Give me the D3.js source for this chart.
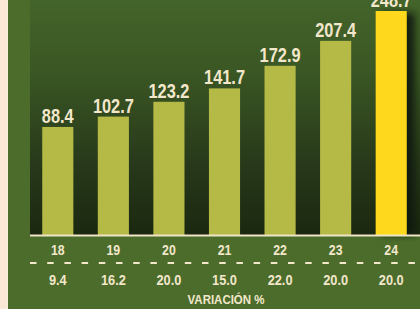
<!DOCTYPE html>
<html><head><meta charset="utf-8">
<script src="https://cdn.jsdelivr.net/npm/d3@7"></script>
<style>html,body{margin:0;padding:0;background:#4b6c2b;}svg{display:block;}</style>
</head><body>
<script>
const years = ["18","19","20","21","22","23","24"];
const values = [88.4, 102.7, 123.2, 141.7, 172.9, 207.4, 248.7];
const variations = ["9.4","16.2","20.0","15.0","22.0","20.0","20.0"];
const highlight = "24";
const axisTitle = "VARIACIÓN %";

const W = 420, H = 309;
const font = "'Liberation Sans',Arial,sans-serif";
const cream = "#f3e7cb";
const svg = d3.select("body").append("svg").attr("width", W).attr("height", H);
const defs = svg.append("defs");
const grad = defs.append("linearGradient").attr("id","bg").attr("x1",0).attr("x2",0).attr("y1",0).attr("y2",1);
[[0,"#43642a"],[0.3,"#3b5724"],[0.7,"#27391a"],[1,"#1b2810"]].forEach(s=>grad.append("stop").attr("offset",s[0]).attr("stop-color",s[1]));
const sh = defs.append("filter").attr("id","sh").attr("x","-50%").attr("y","-10%").attr("width","200%").attr("height","120%");
sh.append("feGaussianBlur").attr("stdDeviation",3);

svg.append("rect").attr("width",W).attr("height",H).attr("fill","#4b6c2b");
svg.append("rect").attr("width",7).attr("height",H).attr("fill","#fae7d5");
svg.append("rect").attr("x",7).attr("width",1).attr("height",H).attr("fill","#f6efd9");

const x = d3.scaleBand().domain(years).range([30,419]).paddingInner(0.44).paddingOuter(0.22);
const y = d3.scaleLinear().domain([-61, 248.7]).range([235, 11]);
const cx = d => x(d) + x.bandwidth()/2;

svg.append("rect").attr("x",30).attr("y",0).attr("width",W-30).attr("height",y(-61)).attr("fill","url(#bg)");

const hi = values[years.indexOf(highlight)];
svg.append("rect").attr("x",x(highlight)+6).attr("y",y(hi)+2).attr("width",x.bandwidth()+2).attr("height",y(-61)-y(hi)-2)
  .attr("fill","#0f170a").attr("opacity",0.85).attr("filter","url(#sh)");

svg.selectAll("rect.bar").data(years).join("rect").attr("class","bar")
  .attr("x",d=>x(d)).attr("width",x.bandwidth())
  .attr("y",(d,i)=>y(values[i])).attr("height",(d,i)=>y(-61)-y(values[i]))
  .attr("fill",d=>d===highlight?"#fdd81c":"#b5b946");

function label(sel, size, sx) {
  return sel.attr("text-anchor","middle").attr("font-family",font).attr("font-weight","bold")
    .attr("font-size",size).attr("fill",cream);
}

label(svg.selectAll("text.val").data(years).join("text").attr("class","val"), 19.5)
  .attr("transform",(d,i)=>`translate(${cx(d)},${y(values[i])-4}) scale(0.84,1)`)
  .text((d,i)=>values[i].toFixed(1));

svg.append("line").attr("x1",30).attr("x2",W).attr("y1",y(-61)+0.5).attr("y2",y(-61)+0.5).attr("stroke","#efe4c6").attr("stroke-width",2);

label(svg.selectAll("text.yr").data(years).join("text").attr("class","yr"), 14)
  .attr("transform",d=>`translate(${cx(d)},255) scale(0.88,1)`).text(d=>d);

svg.append("line").attr("x1",30).attr("x2",W).attr("y1",263).attr("y2",263)
  .attr("stroke",cream).attr("stroke-width",2).attr("stroke-dasharray","6.5,10.7");

label(svg.selectAll("text.var").data(years).join("text").attr("class","var"), 15.4)
  .attr("transform",d=>`translate(${cx(d)},284.5) scale(0.83,1)`).text((d,i)=>variations[i]);

label(svg.append("text"), 13.2).attr("transform","translate(226,304) scale(0.87,1)").text(axisTitle);
</script>
</body></html>
